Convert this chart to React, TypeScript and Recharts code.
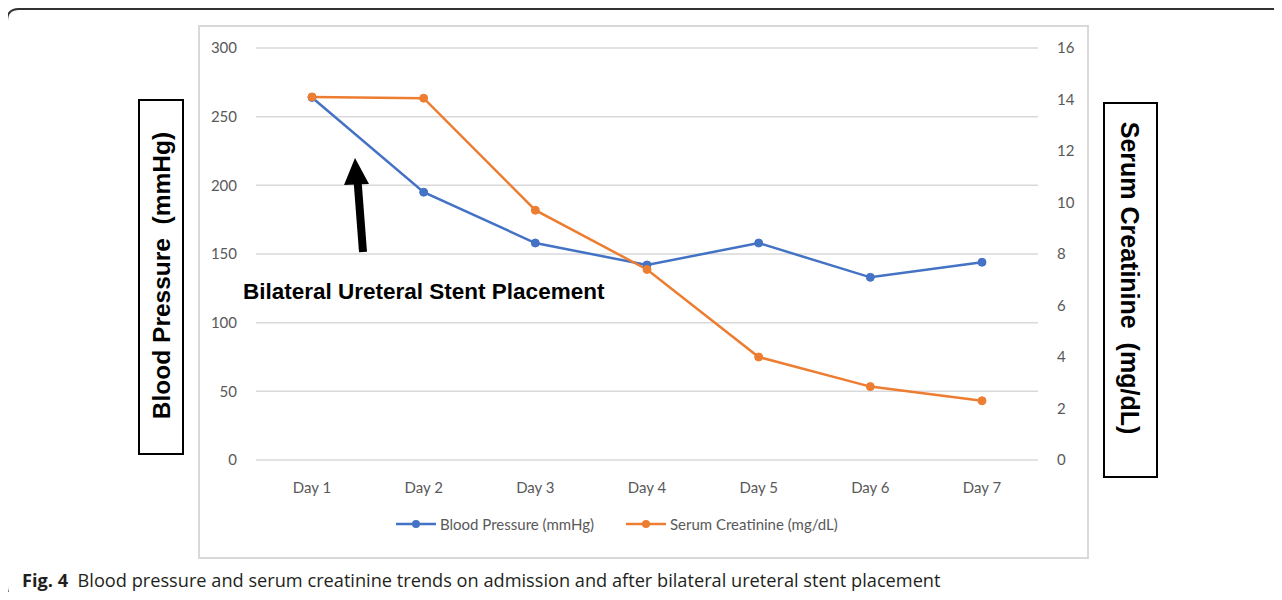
import { LineChart, Line, XAxis, YAxis, CartesianGrid, Legend } from "recharts";

const days = ["Day 1", "Day 2", "Day 3", "Day 4", "Day 5", "Day 6", "Day 7"];
const bloodPressure = [264, 195, 158, 142, 158, 133, 144];
const creatinine = [14.1, 14.05, 9.7, 7.4, 4.0, 2.85, 2.3];
const bpTicks = [0, 50, 100, 150, 200, 250, 300];
const crTicks = [0, 2, 4, 6, 8, 10, 12, 14, 16];

const BLUE = "#4472C4";
const ORANGE = "#ED7D31";
const TICK = { fontSize: 15, fill: "#595959", fontFamily: "Lato" };

const data = days.map((day, i) => ({
  day,
  bp: bloodPressure[i],
  cr: creatinine[i],
}));

// Excel-style legend: line with a dot in the middle
function LegendContent() {
  const items = [
    { label: "Blood Pressure (mmHg)", color: BLUE },
    { label: "Serum Creatinine (mg/dL)", color: ORANGE },
  ];
  return (
    <div style={{ display: "flex", gap: 32, fontFamily: "Lato", fontSize: 15, color: "#595959" }}>
      {items.map((it) => (
        <div key={it.label} style={{ display: "flex", alignItems: "center", gap: 4 }}>
          <svg width={40} height={12}>
            <line x1={0} y1={6} x2={40} y2={6} stroke={it.color} strokeWidth={2.5} />
            <circle cx={20} cy={6} r={4} fill={it.color} />
          </svg>
          <span>{it.label}</span>
        </div>
      ))}
    </div>
  );
}

export default function App() {
  return (
    <div style={{ position: "relative", width: 1266, height: 584, fontFamily: "Lato" }}>
      <style>{`body{overflow:hidden}`}</style>

      {/* chart area frame */}
      <div
        style={{
          position: "absolute",
          left: 190,
          top: 17,
          width: 891,
          height: 534,
          boxSizing: "border-box",
          border: "2px solid #d9d9d9",
        }}
      />

      <div style={{ position: "absolute", left: 0, top: 0 }}>
        <LineChart
          width={1266}
          height={552}
          data={data}
          margin={{ top: 40, right: 176, bottom: 60, left: 0 }}
        >
          <CartesianGrid yAxisId="left" vertical={false} stroke="#d9d9d9" strokeWidth={1.5} />
          <XAxis
            dataKey="day"
            axisLine={false}
            tickLine={false}
            tick={TICK}
            tickMargin={16}
            height={40}
            padding={{ left: 56, right: 56 }}
          />
          <YAxis
            yAxisId="left"
            domain={[0, 300]}
            ticks={bpTicks}
            axisLine={false}
            tickLine={false}
            tick={TICK}
            tickMargin={13}
            width={248}
          />
          <YAxis
            yAxisId="right"
            orientation="right"
            domain={[0, 16]}
            ticks={crTicks}
            axisLine={false}
            tickLine={false}
            tick={TICK}
            tickMargin={13}
            width={60}
          />
          <Legend
            verticalAlign="middle"
            content={<LegendContent />}
            wrapperStyle={{ top: 507, left: 388, width: "auto" }}
          />
          <Line
            yAxisId="left"
            dataKey="bp"
            name="Blood Pressure (mmHg)"
            stroke={BLUE}
            strokeWidth={2.5}
            dot={{ r: 4, fill: BLUE, stroke: BLUE, strokeWidth: 1 }}
            isAnimationActive={false}
          />
          <Line
            yAxisId="right"
            dataKey="cr"
            name="Serum Creatinine (mg/dL)"
            stroke={ORANGE}
            strokeWidth={2.5}
            dot={{ r: 4, fill: ORANGE, stroke: ORANGE, strokeWidth: 1 }}
            isAnimationActive={false}
          />
        </LineChart>
      </div>

      {/* figure frame, annotations, axis title boxes and caption (page coordinates) */}
      <svg
        width={1282}
        height={600}
        style={{ position: "absolute", left: -8, top: -8, pointerEvents: "none" }}
      >
        <path
          d="M 1282 9 H 19 Q 7 9 7 21 V 586 Q 7 597 15 600"
          fill="none"
          stroke="#333"
          strokeWidth={2}
        />
        <g transform="translate(8 8)">
          <line x1={355} y1={244} x2={349.5} y2={172} stroke="#000" strokeWidth={8} />
          <polygon points="347,150 336,177 361,176" fill="#000" />
          <text
            x={235}
            y={291}
            fontFamily="Liberation Sans, Arial, sans-serif"
            fontWeight="bold"
            fontSize={22.5}
            fill="#000"
          >
            Bilateral Ureteral Stent Placement
          </text>

          <rect x={131} y={92} width={44} height={354} fill="#fff" stroke="#000" strokeWidth={2} />
          <text
            x={153}
            y={267.5}
            transform="rotate(-90 153 267.5)"
            textAnchor="middle"
            dominantBaseline="central"
            fontFamily="Liberation Sans, Arial, sans-serif"
            fontWeight="bold"
            fontSize={24.5}
            fill="#000"
            style={{ whiteSpace: "pre" }}
          >
            Blood Pressure  (mmHg)
          </text>

          <rect x={1096} y={95} width={53} height={374} fill="#fff" stroke="#000" strokeWidth={2} />
          <text
            x={1122}
            y={270}
            transform="rotate(90 1122 270)"
            textAnchor="middle"
            dominantBaseline="central"
            fontFamily="Liberation Sans, Arial, sans-serif"
            fontWeight="bold"
            fontSize={25}
            fill="#000"
            style={{ whiteSpace: "pre" }}
          >
            Serum Creatinine  (mg/dL)
          </text>

          <text x={14} y={579} fontFamily="Open Sans" fontSize={18.2} fill="#231f20" style={{ whiteSpace: "pre" }}>
            <tspan fontWeight="bold">Fig. 4</tspan>
            <tspan>{"  Blood pressure and serum creatinine trends on admission and after bilateral ureteral stent placement"}</tspan>
          </text>
        </g>
      </svg>
    </div>
  );
}
